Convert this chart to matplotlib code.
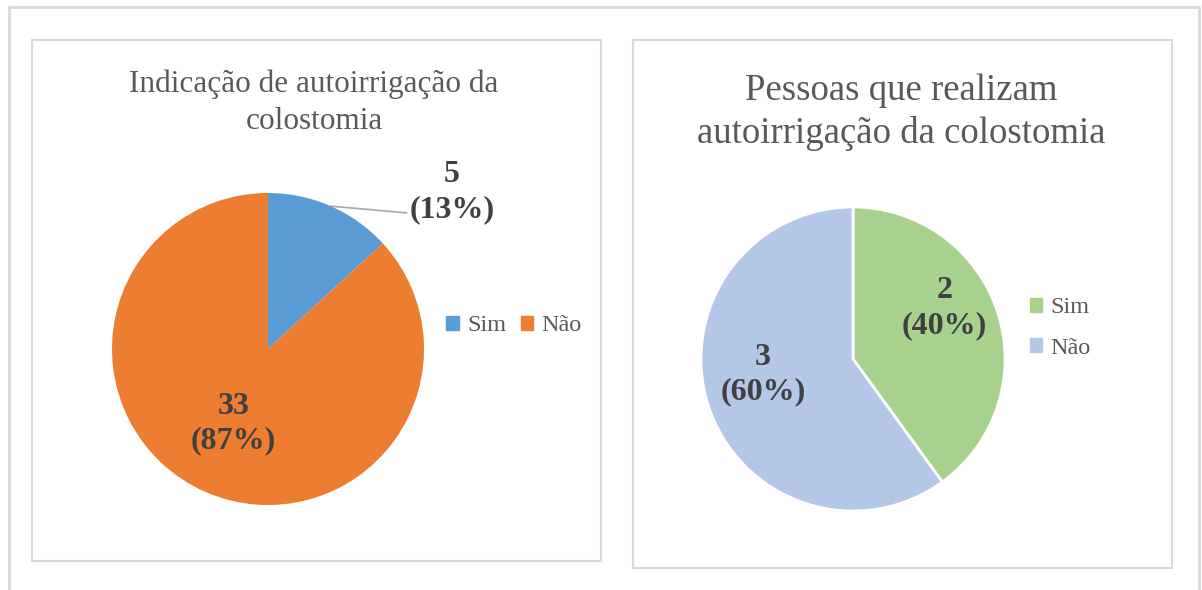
import matplotlib.pyplot as plt
from matplotlib.patches import Rectangle, Patch
from matplotlib.lines import Line2D
import numpy as np

plt.rcParams['font.family'] = ['Liberation Serif', 'DejaVu Serif']

# data
categories = ['Sim', 'Não']
indicacao = [5, 33]
realizam = [2, 3]
titles = ['Indicação de autoirrigação da\ncolostomia',
          'Pessoas que realizam\nautoirrigação da colostomia']
colors_left = ['#5B9BD5', '#ED7D31']
colors_right = ['#A9D18E', '#B4C7E7']

W, H = 1202, 590
TXT = '#404040'
TITLE_C = '#595959'
GRID_C = '#D9D9D9'

fig = plt.figure(figsize=(W / 100, H / 100), dpi=100)
ax = fig.add_axes([0, 0, 1, 1])


def py(y):
    # pixel row from top -> data y
    return H - y


def mid_angle(vals, i, start=90):
    tot = sum(vals)
    before = sum(vals[:i]) / tot * 360
    frac = vals[i] / tot * 360
    return np.deg2rad(start - before - frac / 2)


def lab(vals, i):
    return f'{vals[i]}\n({round(vals[i] / sum(vals) * 100)}%)'


LBL = dict(ha='center', va='center', fontsize=23, fontweight='bold',
           color=TXT, linespacing=1.25)

# outer frame (open at bottom)
ax.add_line(Line2D([9, 9, 1199, 1199], [0, py(7), py(7), 0], color=GRID_C, lw=2))
# panel boxes
ax.add_patch(Rectangle((32, py(561)), 569, 521, fill=False, ec=GRID_C, lw=1.5))
ax.add_patch(Rectangle((633, py(568)), 539, 528, fill=False, ec=GRID_C, lw=1.5))

# left pie
c1, r1 = (268, py(349)), 156
w1, _ = ax.pie(indicacao, colors=colors_left, startangle=90, counterclock=False,
               center=c1, radius=r1, frame=True)
a = mid_angle(indicacao, 1)
ax.text(c1[0] + 0.52 * r1 * np.cos(a) - 2, c1[1] + 0.52 * r1 * np.sin(a),
        lab(indicacao, 1), **LBL)
# Sim label sits outside with a leader line
a = mid_angle(indicacao, 0)
ax.annotate(lab(indicacao, 0), xy=(c1[0] + r1 * np.cos(a), c1[1] + r1 * np.sin(a)),
            xytext=(452, py(192)),
            arrowprops=dict(arrowstyle='-', color='#A6A6A6', lw=1.2,
                            shrinkA=0, shrinkB=0, relpos=(-0.02, 0.17)),
            **LBL)

# right pie
c2, r2 = (853, py(359)), 152
w2, _ = ax.pie(realizam, colors=colors_right, startangle=90, counterclock=False,
               center=c2, radius=r2, explode=[0.03, 0], frame=True,
               wedgeprops=dict(edgecolor='white', linewidth=2))
# (distance as fraction of radius, angle nudge in degrees) per label
label_pos = [(0.69, 11), (0.60, -8)]
for i, (d, nudge) in enumerate(label_pos):
    a = mid_angle(realizam, i) + np.deg2rad(nudge)
    ax.text(c2[0] + d * r2 * np.cos(a), c2[1] + d * r2 * np.sin(a),
            lab(realizam, i), **LBL)

# titles
ax.text(314, py(103), titles[0], ha='center', va='center', fontsize=22.5,
        color=TITLE_C, linespacing=1.35)
ax.text(901, py(112), titles[1], ha='center', va='center', fontsize=26.5,
        color=TITLE_C, linespacing=1.3)

# legends
h1 = [Patch(color=c) for c in colors_left]
fig.legend(h1, categories, ncol=2, loc='center', bbox_to_anchor=(514 / W, 1 - 326 / H),
           frameon=False, fontsize=17.5, handlelength=0.5, handleheight=0.5,
           handletextpad=0.35, columnspacing=0.6, labelcolor=TITLE_C,
           borderpad=0, borderaxespad=0)
h2 = [Patch(color=c) for c in colors_right]
fig.legend(h2, categories, ncol=1, loc='center', bbox_to_anchor=(1060 / W, 1 - 328 / H),
           frameon=False, fontsize=17.5, handlelength=0.5, handleheight=0.5,
           handletextpad=0.35, labelspacing=0.8, labelcolor=TITLE_C,
           borderpad=0, borderaxespad=0)

ax.set_xlim(0, W)
ax.set_ylim(0, H)
ax.set_aspect('equal')
ax.axis('off')

fig.savefig('out.png', dpi=100)
